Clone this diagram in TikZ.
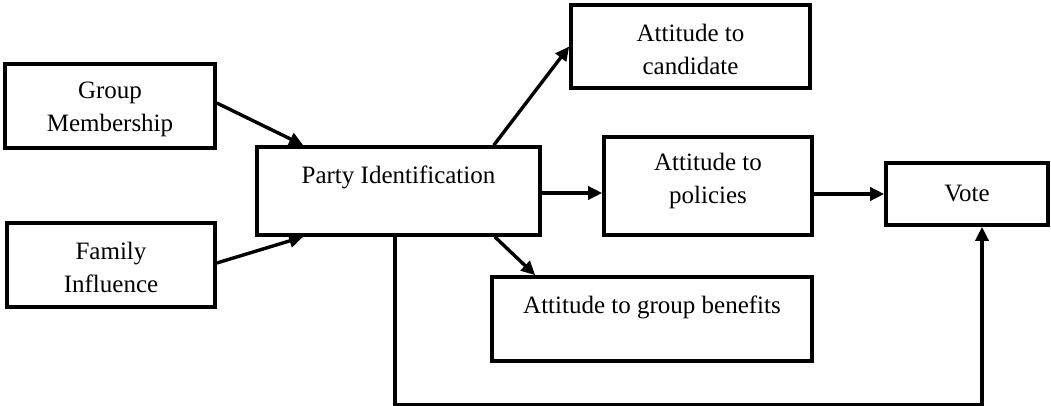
\documentclass[tikz,border=0pt]{standalone}
\usepackage{fontspec}
\setmainfont{Liberation Serif}
\usetikzlibrary{arrows.meta}
\tikzset{
  boxnode/.style={draw=black, line width=3.6pt, rectangle, inner sep=0pt, fill=none},
  txt/.style={inner sep=0pt, align=center, font=\fontsize{25}{33}\selectfont},
  conn/.style={line width=3.4pt, -{Triangle[length=14pt,width=13pt]}},
}
\begin{document}
\begin{tikzpicture}[x=1pt, y=-1pt]
\useasboundingbox (0,0) rectangle (1051,406);
% boxes
\node[boxnode, minimum width=210pt, minimum height=84pt] (gm) at (110,106) {};
\node[boxnode, minimum width=208pt, minimum height=84pt] (fi) at (111,265) {};
\node[boxnode, minimum width=283pt, minimum height=88pt] (party) at (398.5,191) {};
\node[boxnode, minimum width=239pt, minimum height=83pt] (cand) at (690.5,46.5) {};
\node[boxnode, minimum width=208pt, minimum height=98pt] (pol) at (708,186) {};
\node[boxnode, minimum width=162pt, minimum height=62pt] (vote) at (967,194) {};
\node[boxnode, minimum width=320pt, minimum height=84pt] (ben) at (652,319) {};
% texts
\node[txt] (gmt) at (110,109) {Group\\Membership};
\node[txt] (fit) at (111,267) {Family\\Influence};
\node[txt] (partyt) at (398.5,177) {Party Identification};
\node[txt] (candt) at (690.5,49) {Attitude to\\candidate};
\node[txt] (polt) at (708,181) {Attitude to\\policies};
\node[txt] (votet) at (967,194) {Vote};
\node[txt] (bent) at (652,307) {Attitude to group benefits};
% connectors
\draw[conn] ([yshift=3pt]gm.east) -- ([xshift=48pt]party.north west);
\draw[conn] ([yshift=2pt]fi.east) -- ([xshift=48pt]party.south west);
\draw[conn] ([xshift=-48pt]party.north east) -- (cand.west);
\draw[conn] ([yshift=-2pt]party.east) -- ([yshift=-2pt]party.east -| pol.west);
\draw[conn] (pol.east |- vote.west) -- (vote.west);
\draw[conn] ([xshift=-47pt]party.south east) -- ([xshift=45pt]ben.north west);
\draw[conn] ([xshift=-3.5pt]party.south) -- ++(0,168) coordinate (fb) -| ([xshift=15pt]vote.south);
\end{tikzpicture}
\end{document}
